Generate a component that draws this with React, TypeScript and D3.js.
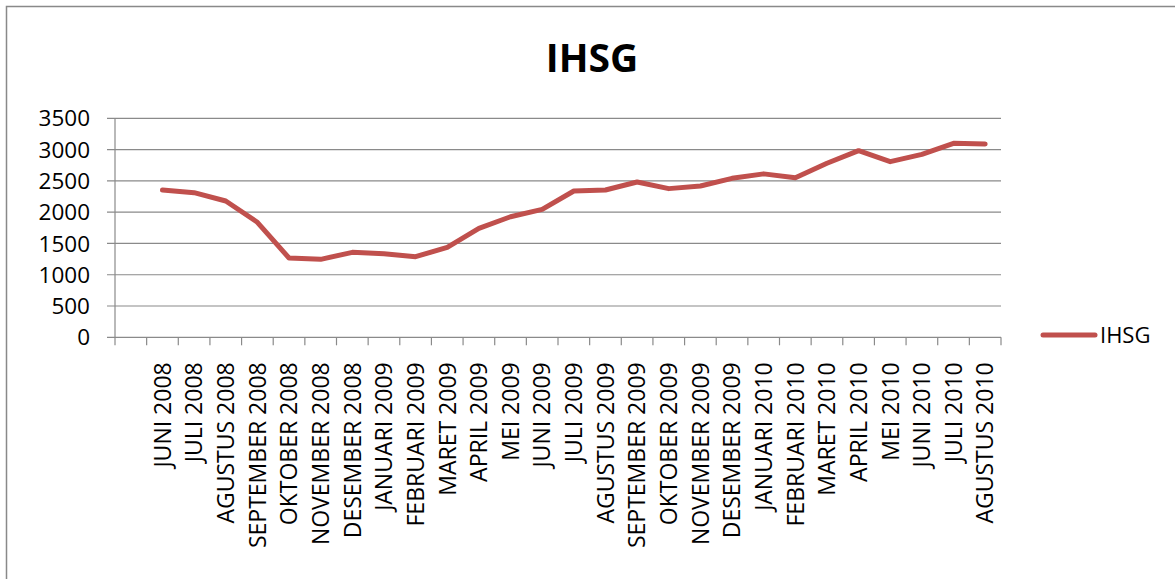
import React, { useEffect, useRef } from 'react';
import * as d3 from 'd3';

// first slot is an empty category (blank row in the sheet)
const categories = [
  "", "JUNI 2008", "JULI 2008", "AGUSTUS 2008", "SEPTEMBER 2008", "OKTOBER 2008",
  "NOVEMBER 2008", "DESEMBER 2008", "JANUARI 2009", "FEBRUARI 2009", "MARET 2009",
  "APRIL 2009", "MEI 2009", "JUNI 2009", "JULI 2009", "AGUSTUS 2009", "SEPTEMBER 2009",
  "OKTOBER 2009", "NOVEMBER 2009", "DESEMBER 2009", "JANUARI 2010", "FEBRUARI 2010",
  "MARET 2010", "APRIL 2010", "MEI 2010", "JUNI 2010", "JULI 2010", "AGUSTUS 2010"
];

const ihsg: (number | null)[] = [
  null, 2354, 2311, 2178, 1838, 1267, 1246, 1358, 1335, 1288, 1438,
  1742, 1927, 2045, 2338, 2354, 2482, 2376, 2418, 2541, 2612, 2551,
  2781, 2983, 2807, 2924, 3100, 3090
];

const yTicks = [0, 500, 1000, 1500, 2000, 2500, 3000, 3500];

const seriesName = "IHSG";
const title = "IHSG";

const App: React.FC = () => {
  const ref = useRef<SVGSVGElement | null>(null);

  useEffect(() => {
    if (!ref.current) return;
    const width = 1175;
    const height = 579;
    const margin = { top: 118.3, left: 115, right: 1001, bottom: 337.3 };
    const font = "'Open Sans', sans-serif";
    const lineColor = "#c0504d";
    const gridColor = "#8a8a8a";

    const svg = d3.select(ref.current)
      .attr("width", width)
      .attr("height", height);
    svg.selectAll("*").remove();

    // chart border
    svg.append("rect")
      .attr("x", 6.5).attr("y", 6.5)
      .attr("width", 1200).attr("height", 700)
      .attr("fill", "#fff")
      .attr("stroke", "#898989")
      .attr("stroke-width", 1.5);

    const x = d3.scaleBand<string>()
      .domain(categories)
      .range([margin.left, margin.right]);

    const y = d3.scaleLinear()
      .domain([0, 3500])
      .range([margin.bottom, margin.top]);

    // horizontal gridlines + y ticks
    svg.append("g")
      .selectAll("line")
      .data(yTicks)
      .enter()
      .append("line")
      .attr("x1", margin.left - 8)
      .attr("x2", margin.right)
      .attr("y1", d => y(d))
      .attr("y2", d => y(d))
      .attr("stroke", gridColor)
      .attr("stroke-width", 1.2);

    svg.append("g")
      .selectAll("text")
      .data(yTicks)
      .enter()
      .append("text")
      .attr("x", 90)
      .attr("y", d => y(d))
      .attr("dy", "0.36em")
      .attr("text-anchor", "end")
      .attr("font-family", font)
      .attr("font-size", "22.5px")
      .attr("fill", "#000")
      .text(d => String(d));

    // y axis line
    svg.append("line")
      .attr("x1", margin.left).attr("x2", margin.left)
      .attr("y1", margin.top).attr("y2", margin.bottom)
      .attr("stroke", gridColor)
      .attr("stroke-width", 1.2);

    // x axis ticks at category boundaries
    const bounds = categories.map(c => x(c) as number).concat([margin.right]);
    svg.append("g")
      .selectAll("line")
      .data(bounds)
      .enter()
      .append("line")
      .attr("x1", d => d).attr("x2", d => d)
      .attr("y1", margin.bottom)
      .attr("y2", margin.bottom + 8)
      .attr("stroke", gridColor)
      .attr("stroke-width", 1.2);

    // rotated category labels
    svg.append("g")
      .selectAll("text")
      .data(categories.filter(c => c !== ""))
      .enter()
      .append("text")
      .attr("transform", d => `translate(${(x(d) as number) + x.bandwidth() / 2},${margin.bottom + 25}) rotate(-90)`)
      .attr("dy", "0.36em")
      .attr("text-anchor", "end")
      .attr("font-family", font)
      .attr("font-size", "23px")
      .attr("fill", "#000")
      .text(d => d);

    // series line
    const pts = categories.map((c, i) => ({ c, v: ihsg[i] }));
    const line = d3.line<{ c: string; v: number | null }>()
      .defined(d => d.v !== null)
      .x(d => (x(d.c) as number) + x.bandwidth() / 2)
      .y(d => y(d.v as number));

    svg.append("path")
      .datum(pts)
      .attr("d", line)
      .attr("fill", "none")
      .attr("stroke", lineColor)
      .attr("stroke-width", 5)
      .attr("stroke-linejoin", "round")
      .attr("stroke-linecap", "round");

    // title
    svg.append("text")
      .attr("x", 592)
      .attr("y", 72)
      .attr("text-anchor", "middle")
      .attr("font-family", font)
      .attr("font-weight", "bold")
      .attr("font-size", "39px")
      .attr("fill", "#000")
      .text(title);

    // legend
    svg.append("line")
      .attr("x1", 1043).attr("x2", 1095)
      .attr("y1", 335).attr("y2", 335)
      .attr("stroke", lineColor)
      .attr("stroke-width", 5)
      .attr("stroke-linecap", "round");

    svg.append("text")
      .attr("x", 1100)
      .attr("y", 335)
      .attr("dy", "0.36em")
      .attr("font-family", font)
      .attr("font-size", "22px")
      .attr("fill", "#000")
      .text(seriesName);
  }, []);

  return <svg ref={ref} style={{ position: 'absolute', left: 0, top: 0 }}></svg>;
};

export default App;
